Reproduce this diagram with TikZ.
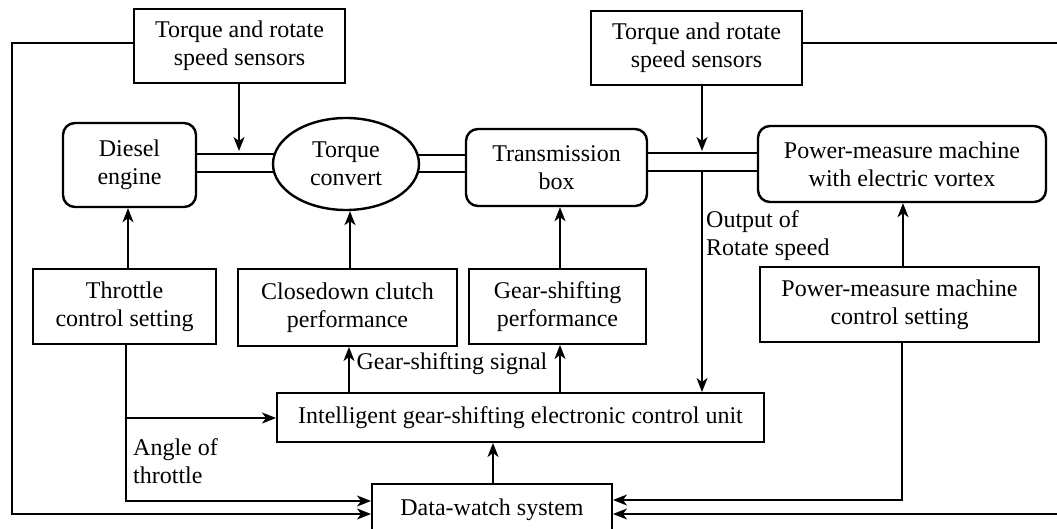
\documentclass[tikz,border=0pt]{standalone}
\usepackage{fontspec}
\setmainfont{Liberation Serif}
\usetikzlibrary{arrows.meta,shapes.geometric,backgrounds}
\begin{document}
\begin{tikzpicture}[x=1pt,y=-1pt,
  every node/.style={font=\fontsize{24}{28}\selectfont},
  box/.style={draw,line width=2pt,align=center,inner sep=0pt,fill=white},
  rbox/.style={box,rounded corners=12pt,line width=2.4pt},
  ell/.style={box,ellipse,line width=2.4pt},
  lbl/.style={inner sep=0pt},
  conn/.style={line width=1.5pt},
  arr/.style={conn,-{Stealth[length=14pt,width=11pt,inset=4pt]}},
  shaft/.style={line width=2pt}]
\useasboundingbox (0,0) rectangle (1057,529);
\clip (0,0) rectangle (1057,529);
% nodes
\node[box,minimum width=211pt,minimum height=74pt] (s1) at (239.5,46) {Torque and rotate\\speed sensors};
\node[box,minimum width=211pt,minimum height=74pt] (s2) at (696.5,48) {Torque and rotate\\speed sensors};
\node[rbox,minimum width=133pt,minimum height=84pt] (diesel) at (129.5,165) {Diesel\\engine};
\node[ell,minimum width=146pt,minimum height=92pt] (torque) at (346,164) {Torque\\convert};
\node[rbox,minimum width=181pt,minimum height=77pt] (trans) at (556.5,167.5) {Transmission\\box};
\node[rbox,minimum width=288pt,minimum height=76pt] (pm) at (902,164) {Power-measure machine\\with electric vortex};
\node[box,minimum width=183pt,minimum height=75pt] (throttle) at (124.5,306.5) {Throttle\\control setting};
\node[box,minimum width=219pt,minimum height=77pt] (clutch) at (347.5,307.5) {Closedown clutch\\performance};
\node[box,minimum width=177pt,minimum height=75pt] (gsp) at (557.5,306.5) {Gear-shifting\\performance};
\node[box,minimum width=279pt,minimum height=75pt] (pmc) at (899.5,304.5) {Power-measure machine\\control setting};
\node[box,minimum width=487pt,minimum height=49pt] (icu) at (520.5,417.5) {Intelligent gear-shifting electronic control unit};
\node[box,minimum width=240pt,minimum height=52pt] (dw) at (492,510) {Data-watch system};
% labels
\node[lbl] (gsl) at (452,364) {Gear-shifting signal};
\node[lbl,align=left,anchor=west] (orl) at (706,236) {Output of\\Rotate speed};
\node[lbl,align=left,anchor=west] (atl) at (133,461) {Angle of\\throttle};
% shafts
\begin{scope}[on background layer]
\draw[shaft] (diesel.east |- 0,154) -- (torque.center |- 0,154);
\draw[shaft] (diesel.east |- 0,172) -- (torque.center |- 0,172);
\draw[shaft] (torque.center |- 0,155) -- (trans.west |- 0,155);
\draw[shaft] (torque.center |- 0,172) -- (trans.west |- 0,172);
\draw[shaft] (trans.east |- 0,153) -- (pm.west |- 0,153);
\draw[shaft] (trans.east |- 0,171) -- (pm.west |- 0,171);
\end{scope}
% coordinates
\coordinate (tap1) at (239,151);
\coordinate (tap2) at (702,151);
\coordinate (out) at (702,171);
\coordinate (lc) at (12,514);
\coordinate (rc) at (1075,514);
\coordinate (tc) at (126,501);
\coordinate (tb) at (126,418);
\coordinate (pc) at (902,500);
% connectors
\draw[arr] (s1.south -| tap1) -- (tap1);
\draw[arr] (s2.south -| tap2) -- (tap2);
\draw[arr] (out) -- (icu.north -| out);
\draw[arr] (s1.west |- 0,43) -| (lc) -- (dw.west |- lc);
\draw[arr] (s2.east |- 0,43) -| (rc) -- (dw.east |- rc);
\draw[arr] (throttle.north -| 128,0) -- (diesel.south -| 128,0);
\draw[arr] (throttle.south -| tc) -- (tc) -- (dw.west |- tc);
\draw[arr] (tb) -- (icu.west |- tb);
\draw[arr] (clutch.north -| 350,0) -- (torque.south -| 350,0);
\draw[arr] (icu.north -| 349,0) -- (clutch.south -| 349,0);
\draw[arr] (gsp.north -| 560,0) -- (trans.south -| 560,0);
\draw[arr] (icu.north -| 560,0) -- (gsp.south -| 560,0);
\draw[arr] (pmc.north -| 903,0) -- (pm.south -| 903,0);
\draw[arr] (pmc.south -| pc) -- (pc) -- (dw.east |- pc);
\draw[arr] (dw.north -| 493,0) -- (icu.south -| 493,0);
\end{tikzpicture}
\end{document}
